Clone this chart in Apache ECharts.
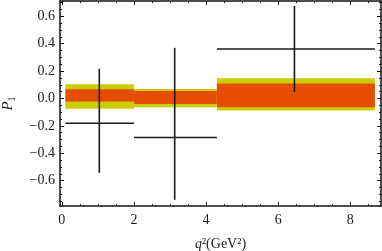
<!DOCTYPE html>
<html><head><meta charset="utf-8">
<script src="https://cdn.jsdelivr.net/npm/echarts@6/dist/echarts.min.js"></script>
<style>html,body{margin:0;padding:0;background:#fff}#c{width:382px;height:251px}</style>
</head><body><div id="c"></div>
<script>
// Bins (q^2 in GeV^2)
const binLo = [0.1, 2.0, 4.3];
const binHi = [2.0, 4.3, 8.68];
// Theory bands
const outerLo = [-0.075, -0.063, -0.087];
const outerHi = [0.104, 0.070, 0.147];
const innerLo = [-0.022, -0.041, -0.063];
const innerHi = [0.067, 0.055, 0.109];
// Data points
const ptX = [1.04, 3.13, 6.45];
const ptY = [-0.181, -0.285, 0.362];
const ptLo = [-0.543, -0.74, 0.048];
const ptHi = [0.217, 0.37, 0.676];
// Axis ticks
const xMajor = [0, 2, 4, 6, 8];
const xMinor = [0.5, 1, 1.5, 2.5, 3, 3.5, 4.5, 5, 5.5, 6.5, 7, 7.5, 8.5];
const yMajor = [-0.6, -0.4, -0.2, 0.0, 0.2, 0.4, 0.6];
const yMinor = [-0.75,-0.7,-0.65,-0.55,-0.5,-0.45,-0.35,-0.3,-0.25,-0.15,-0.1,-0.05,0.05,0.1,0.15,0.25,0.3,0.35,0.45,0.5,0.55,0.65,0.7];

const X_MIN = -0.05, X_MAX = 8.85, Y_MIN = -0.785, Y_MAX = 0.712;
const FONT = '"Liberation Serif", "DejaVu Serif", serif';

function mkX(pos, show, ticks, len, line) {
  return {
    type: 'value', min: X_MIN, max: X_MAX, position: pos,
    axisLine: { show: line, onZero: false, lineStyle: { color: '#111', width: 1.5 } },
    axisTick: { show: true, inside: true, length: len, customValues: ticks, lineStyle: { color: '#111', width: 1 } },
    axisLabel: { show: show, customValues: ticks, margin: 7, fontFamily: FONT, fontSize: 14, color: '#222' },
    splitLine: { show: false }
  };
}
function mkY(pos, show, ticks, len, line) {
  return {
    type: 'value', min: Y_MIN, max: Y_MAX, position: pos,
    axisLine: { show: line, onZero: false, lineStyle: { color: '#111', width: 1.5 } },
    axisTick: { show: true, inside: true, length: len, customValues: ticks, lineStyle: { color: '#111', width: 1 } },
    axisLabel: { show: show, customValues: ticks, margin: 5, fontFamily: FONT, fontSize: 14, color: '#222',
      formatter: v => (v < -1e-9 ? '\u2212' : '') + Math.abs(v).toFixed(1) },
    splitLine: { show: false }
  };
}

const xAxes = [mkX('bottom', true, xMajor, 4, true), mkX('bottom', false, xMinor, 2, false),
               mkX('top', false, xMajor, 4, true), mkX('top', false, xMinor, 2, false)];
xAxes[0].name = '{i|q}\u00b2(GeV\u00b2)';
xAxes[0].nameLocation = 'middle';
xAxes[0].nameGap = 31;
xAxes[0].nameTextStyle = { fontFamily: FONT, fontSize: 14, color: '#222',
  rich: { i: { fontFamily: FONT, fontStyle: 'italic', fontSize: 14, color: '#222' } } };
const yAxes = [mkY('left', true, yMajor, 4, true), mkY('left', false, yMinor, 2, false),
               mkY('right', false, yMajor, 4, true), mkY('right', false, yMinor, 2, false)];
yAxes[0].name = '{p|P}{s|1}';
yAxes[0].nameLocation = 'middle';
yAxes[0].nameRotate = 90;
yAxes[0].nameGap = 43;
yAxes[0].nameTextStyle = { fontFamily: FONT, fontSize: 14, color: '#222',
  rich: { p: { fontFamily: FONT, fontStyle: 'italic', fontSize: 15, color: '#222' },
          s: { fontFamily: FONT, fontSize: 10, color: '#222', padding: [7, 0, 0, 0] } } };

const bandData = binLo.map((lo, i) => [lo, binHi[i], outerLo[i], outerHi[i], innerLo[i], innerHi[i]]);
const ptData = ptX.map((x, i) => [x, ptY[i], ptLo[i], ptHi[i], binLo[i], binHi[i]]);

const chart = echarts.init(document.getElementById('c'), null, { renderer: 'canvas' });
chart.setOption({
  animation: false,
  grid: { left: 60, right: 1, top: 1, bottom: 45, containLabel: false, outerBoundsMode: 'none' },
  xAxis: xAxes,
  yAxis: yAxes,
  series: [
    {
      type: 'custom', xAxisIndex: 0, yAxisIndex: 0, data: bandData, z: 1,
      renderItem: function (params, api) {
        const a = api.coord([api.value(0), api.value(3)]);
        const b = api.coord([api.value(1), api.value(2)]);
        const c = api.coord([api.value(0), api.value(5)]);
        const d = api.coord([api.value(1), api.value(4)]);
        return { type: 'group', children: [
          { type: 'rect', shape: { x: a[0], y: a[1], width: b[0] - a[0], height: b[1] - a[1] }, style: { fill: '#cccc00' } },
          { type: 'rect', shape: { x: c[0], y: c[1], width: d[0] - c[0], height: d[1] - c[1] }, style: { fill: '#e54d00' } }
        ]};
      }
    },
    {
      type: 'custom', xAxisIndex: 0, yAxisIndex: 0, data: ptData, z: 3,
      renderItem: function (params, api) {
        const top = api.coord([api.value(0), api.value(3)]);
        const bot = api.coord([api.value(0), api.value(2)]);
        const l = api.coord([api.value(4), api.value(1)]);
        const r = api.coord([api.value(5), api.value(1)]);
        const st = { stroke: '#1a1a1a', lineWidth: 1.6 };
        return { type: 'group', children: [
          { type: 'line', shape: { x1: top[0], y1: top[1], x2: bot[0], y2: bot[1] }, style: st },
          { type: 'line', shape: { x1: l[0], y1: l[1], x2: r[0], y2: r[1] }, style: st }
        ]};
      }
    }
  ]
});
</script></body></html>
